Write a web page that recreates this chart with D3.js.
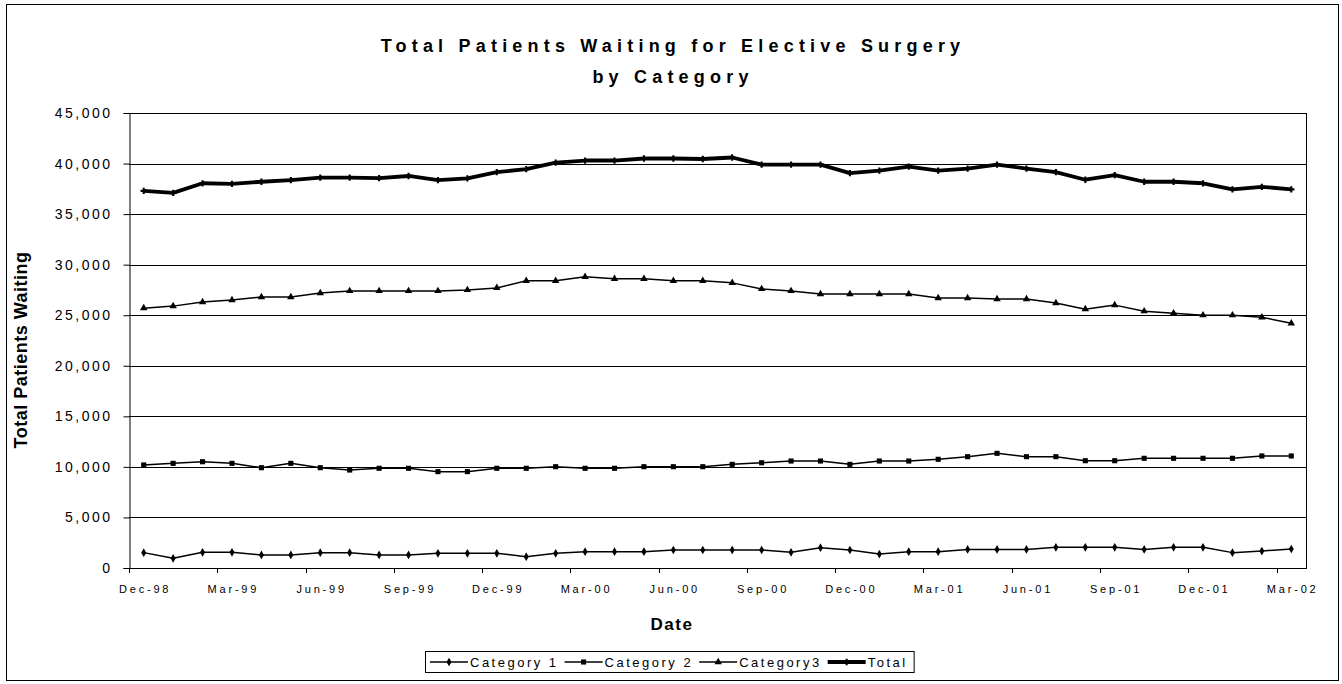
<!DOCTYPE html>
<html>
<head>
<meta charset="utf-8">
<script src="https://d3js.org/d3.v7.min.js"></script>
<style>
  body { margin: 0; background: #fff; }
  text { font-family: Arial, "Liberation Sans", sans-serif; fill: #000; }
</style>
</head>
<body>
<div id="my_dataviz"></div>
<script>
// months on the category axis
var months = ["Dec-98","Jan-99","Feb-99","Mar-99","Apr-99","May-99","Jun-99","Jul-99","Aug-99","Sep-99",
  "Oct-99","Nov-99","Dec-99","Jan-00","Feb-00","Mar-00","Apr-00","May-00","Jun-00","Jul-00",
  "Aug-00","Sep-00","Oct-00","Nov-00","Dec-00","Jan-01","Feb-01","Mar-01","Apr-01","May-01",
  "Jun-01","Jul-01","Aug-01","Sep-01","Oct-01","Nov-01","Dec-01","Jan-02","Feb-02","Mar-02"];

var tickLabels = ["Dec-98","Mar-99","Jun-99","Sep-99","Dec-99","Mar-00","Jun-00","Sep-00",
  "Dec-00","Mar-01","Jun-01","Sep-01","Dec-01","Mar-02"];

var yTicks = [0, 5000, 10000, 15000, 20000, 25000, 30000, 35000, 40000, 45000];

// series values
var category1 = [1520,960,1550,1550,1290,1290,1520,1520,1290,1290,
  1450,1450,1450,1120,1450,1610,1610,1610,1780,1780,
  1780,1780,1550,2010,1780,1380,1610,1610,1840,1840,
  1840,2050,2050,2050,1840,2050,2050,1520,1680,1880];

var category2 = [10190,10350,10510,10350,9920,10350,9920,9690,9860,9860,
  9530,9530,9860,9860,10020,9860,9860,10020,10020,10020,
  10250,10410,10580,10580,10250,10580,10580,10750,11010,11340,
  11010,11010,10610,10610,10850,10850,10850,10850,11080,11080];

var category3 = [25700,25900,26300,26500,26800,26800,27200,27400,27400,27400,
  27400,27500,27700,28400,28400,28800,28600,28600,28400,28400,
  28200,27600,27400,27100,27100,27100,27100,26700,26700,26600,
  26600,26200,25600,26000,25400,25200,25000,25000,24800,24200];

var total = [37300,37100,38050,38000,38200,38370,38600,38600,38550,38770,
  38370,38540,39150,39450,40100,40300,40300,40500,40500,40450,
  40600,39900,39900,39900,39050,39300,39700,39300,39500,39900,
  39500,39150,38400,38850,38200,38200,38050,37450,37700,37450];

var seriesNames = ["Category 1", "Category 2", "Category3", "Total"];

var series = [
  {name: seriesNames[0], values: category1, marker: "diamond", width: 1.5},
  {name: seriesNames[1], values: category2, marker: "square", width: 1.5},
  {name: seriesNames[2], values: category3, marker: "triangle", width: 1.5},
  {name: seriesNames[3], values: total, marker: "cross", width: 3.8}
];

// set the dimensions of the page and the plot area
var W = 1342, H = 684;
var plot = {left: 129, right: 1306, top: 113, bottom: 568};

var svg = d3.select("#my_dataviz")
  .append("svg")
    .attr("width", W)
    .attr("height", H);

// outer chart border
svg.append("rect")
  .attr("x", 6.5).attr("y", 4.5)
  .attr("width", 1332).attr("height", 676)
  .attr("fill", "none")
  .attr("stroke", "#000")
  .attr("stroke-width", 1);

// scales
var x = d3.scaleBand()
  .domain(months)
  .range([plot.left, plot.right])
  .padding(0);

var y = d3.scaleLinear()
  .domain([0, 45000])
  .range([plot.bottom, plot.top]);

function cx(i) { return x(months[i]) + x.bandwidth() / 2; }

// gridlines
svg.append("g")
  .selectAll("line")
  .data(yTicks)
  .enter()
  .append("line")
    .attr("x1", plot.left)
    .attr("x2", plot.right)
    .attr("y1", function(d) { return Math.round(y(d)) + 0.5; })
    .attr("y2", function(d) { return Math.round(y(d)) + 0.5; })
    .attr("stroke", "#000")
    .attr("stroke-width", 1);

// plot area border (right side)
svg.append("line")
  .attr("x1", plot.right + 0.5).attr("x2", plot.right + 0.5)
  .attr("y1", plot.top).attr("y2", plot.bottom)
  .attr("stroke", "#000");

// Y axis
var yAxis = svg.append("g")
  .attr("transform", "translate(" + (plot.left + 0.5) + ",0)")
  .call(d3.axisLeft(y)
    .tickValues(yTicks)
    .tickSize(6)
    .tickPadding(11)
    .tickFormat(d3.format(",")));
yAxis.selectAll("text")
  .style("font-size", "14px")
  .style("letter-spacing", "2.5px")
  .attr("fill", "#000");
yAxis.select(".domain").attr("stroke", "#000");
yAxis.selectAll("line").attr("stroke", "#000");

// X axis: tick marks at every third category boundary, labels at category centres
var xAxisG = svg.append("g");
xAxisG.append("line")
  .attr("x1", plot.left).attr("x2", plot.right + 1)
  .attr("y1", plot.bottom + 0.5).attr("y2", plot.bottom + 0.5)
  .attr("stroke", "#000");

xAxisG.selectAll("line.tick")
  .data(tickLabels)
  .enter()
  .append("line")
    .attr("class", "tick")
    .attr("x1", function(d) { return Math.round(x(d)) + 0.5; })
    .attr("x2", function(d) { return Math.round(x(d)) + 0.5; })
    .attr("y1", plot.bottom)
    .attr("y2", plot.bottom + 5)
    .attr("stroke", "#000");

xAxisG.selectAll("text")
  .data(tickLabels)
  .enter()
  .append("text")
    .attr("x", function(d) { return x(d) + x.bandwidth() / 2 + 1.4; })
    .attr("y", plot.bottom + 25)
    .attr("text-anchor", "middle")
    .style("font-size", "11px")
    .style("letter-spacing", "2.8px")
    .text(function(d) { return d; });

// marker shapes
var symbolFor = {
  diamond: d3.symbol().type(d3.symbolDiamond).size(22),
  square: d3.symbol().type(d3.symbolSquare).size(26),
  triangle: d3.symbol().type(d3.symbolTriangle).size(24),
  cross: d3.symbol().type(d3.symbolCross).size(22)
};

var line = d3.line()
  .x(function(d, i) { return cx(i); })
  .y(function(d) { return y(d); });

series.forEach(function(s) {
  svg.append("path")
    .datum(s.values)
    .attr("fill", "none")
    .attr("stroke", "#000")
    .attr("stroke-width", s.width)
    .attr("stroke-linejoin", "round")
    .attr("d", line);

  svg.append("g")
    .selectAll("path")
    .data(s.values)
    .enter()
    .append("path")
      .attr("d", symbolFor[s.marker])
      .attr("transform", function(d, i) { return "translate(" + cx(i) + "," + y(d) + ")"; })
      .attr("fill", "#000");
});

// title
var title = svg.append("text")
  .attr("text-anchor", "middle")
  .style("font-size", "18px")
  .style("font-weight", "bold")
  .style("letter-spacing", "5.2px");
title.append("tspan").attr("x", 673).attr("y", 52).text("Total Patients Waiting for Elective Surgery");
title.append("tspan").attr("x", 673).attr("y", 83).text("by Category");

// axis titles
svg.append("text")
  .attr("transform", "translate(27,350) rotate(-90)")
  .attr("text-anchor", "middle")
  .style("font-size", "18px")
  .style("font-weight", "bold")
  .style("letter-spacing", "0.5px")
  .text("Total Patients Waiting");

svg.append("text")
  .attr("x", 672)
  .attr("y", 630)
  .attr("text-anchor", "middle")
  .style("font-size", "17px")
  .style("font-weight", "bold")
  .style("letter-spacing", "1.5px")
  .text("Date");

// legend
var legend = svg.append("g");
var legendBox = legend.append("rect")
  .attr("fill", "none")
  .attr("stroke", "#000")
  .attr("stroke-width", 1);

var lx = 430, ly = 662;
series.forEach(function(s) {
  legend.append("line")
    .attr("x1", lx).attr("x2", lx + 38)
    .attr("y1", ly).attr("y2", ly)
    .attr("stroke", "#000")
    .attr("stroke-width", s.width);
  legend.append("path")
    .attr("d", symbolFor[s.marker])
    .attr("transform", "translate(" + (lx + 19) + "," + ly + ")")
    .attr("fill", "#000");
  var t = legend.append("text")
    .attr("x", lx + 40)
    .attr("y", ly + 5)
    .style("font-size", "13px")
    .style("letter-spacing", "2.5px")
    .text(s.name);
  lx += 40 + t.node().getComputedTextLength() + 6;
});
legendBox
  .attr("x", 425.5).attr("y", 651.5)
  .attr("width", lx - 425).attr("height", 21);
</script>
</body>
</html>
